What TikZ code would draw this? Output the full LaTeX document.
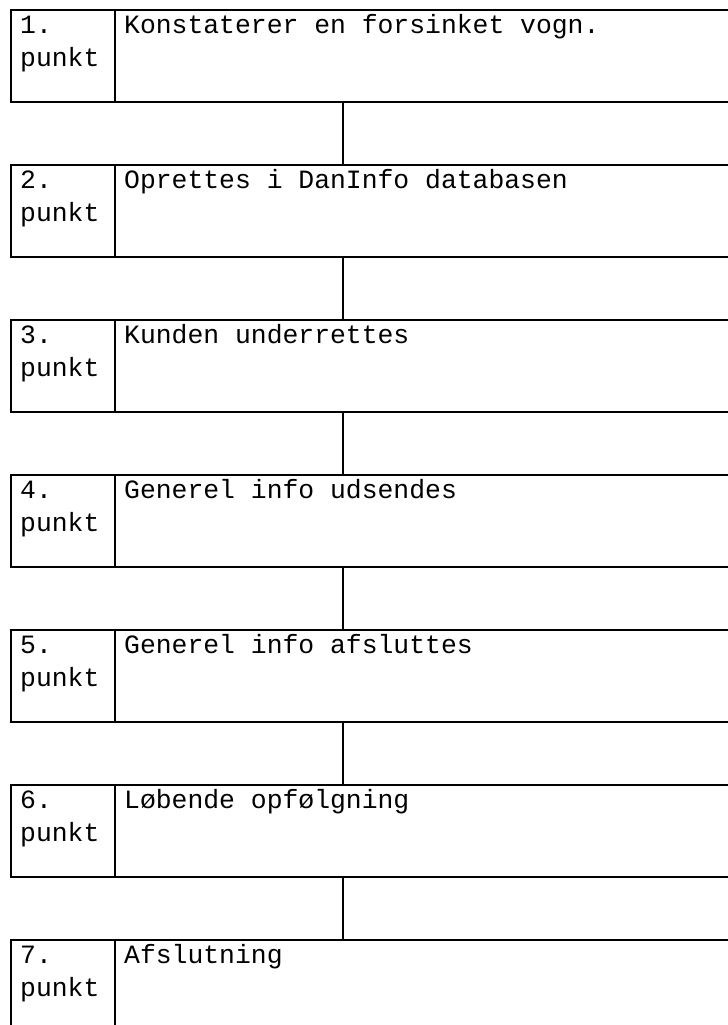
\documentclass[tikz,border=0pt]{standalone}
\usepackage{fontspec}
\newfontfamily\monofont{Liberation Mono}
\usepackage{tikz}
\usetikzlibrary{positioning}
\tikzset{
    cell/.style = {draw=black, line width=2bp, inner sep=0pt, outer sep=0pt, minimum height=92bp},
    num_cell/.style = {cell, minimum width=104bp, anchor=north west},
    text_cell/.style = {cell, minimum width=640bp, anchor=north west},
    cell_text/.style = {anchor=base west, inner sep=0pt, align=left, font=\monofont\fontsize{26.4bp}{33bp}\selectfont},
    link/.style = {draw=black, line width=2bp}
}

\begin{document}
\begin{tikzpicture}[x=1bp, y=-1bp]
    \useasboundingbox (0,0) rectangle (728,1025);
    \clip (0,0) rectangle (728,1025);
    % step boxes
    \node [num_cell] (n1) at (11,10) {};
    \node [text_cell] (t1) at (n1.north east) {};
    \node [num_cell, below=63bp of n1] (n2) {};
    \node [text_cell] (t2) at (n2.north east) {};
    \node [num_cell, below=63bp of n2] (n3) {};
    \node [text_cell] (t3) at (n3.north east) {};
    \node [num_cell, below=63bp of n3] (n4) {};
    \node [text_cell] (t4) at (n4.north east) {};
    \node [num_cell, below=63bp of n4] (n5) {};
    \node [text_cell] (t5) at (n5.north east) {};
    \node [num_cell, below=63bp of n5] (n6) {};
    \node [text_cell] (t6) at (n6.north east) {};
    \node [num_cell, below=63bp of n6] (n7) {};
    \node [text_cell] (t7) at (n7.north east) {};
    % texts
    \node [cell_text] (p1) at ([xshift=9bp, yshift=-56bp]n1.north west) {1.\\punkt};
    \node [cell_text] (s1) at ([xshift=9bp, yshift=-23bp]t1.north west) {Konstaterer en forsinket vogn.};
    \node [cell_text] (p2) at ([xshift=9bp, yshift=-56bp]n2.north west) {2.\\punkt};
    \node [cell_text] (s2) at ([xshift=9bp, yshift=-23bp]t2.north west) {Oprettes i DanInfo databasen};
    \node [cell_text] (p3) at ([xshift=9bp, yshift=-56bp]n3.north west) {3.\\punkt};
    \node [cell_text] (s3) at ([xshift=9bp, yshift=-23bp]t3.north west) {Kunden underrettes};
    \node [cell_text] (p4) at ([xshift=9bp, yshift=-56bp]n4.north west) {4.\\punkt};
    \node [cell_text] (s4) at ([xshift=9bp, yshift=-23bp]t4.north west) {Generel info udsendes};
    \node [cell_text] (p5) at ([xshift=9bp, yshift=-56bp]n5.north west) {5.\\punkt};
    \node [cell_text] (s5) at ([xshift=9bp, yshift=-23bp]t5.north west) {Generel info afsluttes};
    \node [cell_text] (p6) at ([xshift=9bp, yshift=-56bp]n6.north west) {6.\\punkt};
    \node [cell_text] (s6) at ([xshift=9bp, yshift=-23bp]t6.north west) {Løbende opfølgning};
    \node [cell_text] (p7) at ([xshift=9bp, yshift=-56bp]n7.north west) {7.\\punkt};
    \node [cell_text] (s7) at ([xshift=9bp, yshift=-23bp]t7.north west) {Afslutning};
    % links
    \draw [link] ([xshift=228bp]t1.south west) -- ([xshift=228bp]t2.north west);
    \draw [link] ([xshift=228bp]t2.south west) -- ([xshift=228bp]t3.north west);
    \draw [link] ([xshift=228bp]t3.south west) -- ([xshift=228bp]t4.north west);
    \draw [link] ([xshift=228bp]t4.south west) -- ([xshift=228bp]t5.north west);
    \draw [link] ([xshift=228bp]t5.south west) -- ([xshift=228bp]t6.north west);
    \draw [link] ([xshift=228bp]t6.south west) -- ([xshift=228bp]t7.north west);
\end{tikzpicture}
\end{document}
